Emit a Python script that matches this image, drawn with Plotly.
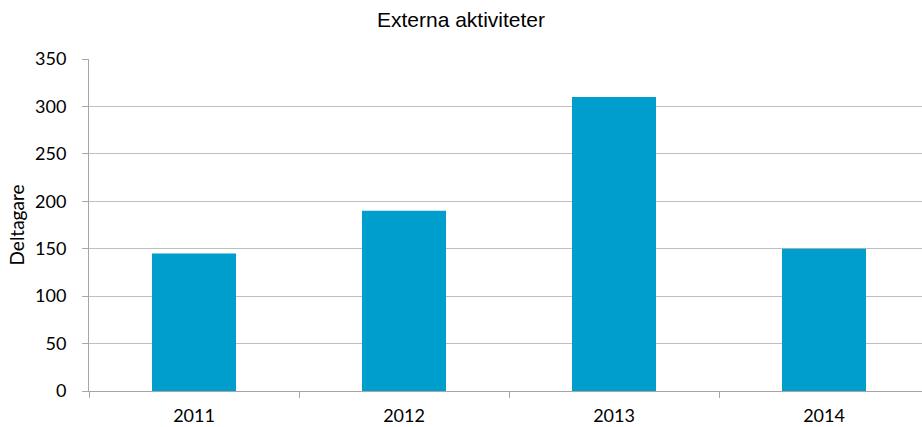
import plotly.graph_objects as go

years = ["2011", "2012", "2013", "2014"]
deltagare = [145, 190, 310, 150]
y_ticks = [0, 50, 100, 150, 200, 250, 300, 350]

W, H = 922, 427
ml, mr, mt, mb = 89, 0, 59, 36
cat_px = 210.0
x_hi = -0.5 + (W - ml - mr) / cat_px

label_font = dict(family="Lato, Carlito, Calibri", size=18, color="black")

fig = go.Figure(go.Bar(
    x=years, y=deltagare,
    marker=dict(color="#009ECC", line=dict(width=0)),
    width=0.4,
))

fig.update_layout(
    width=W, height=H,
    margin=dict(l=ml, r=mr, t=mt, b=mb, autoexpand=False),
    paper_bgcolor="white", plot_bgcolor="white",
    showlegend=False,
    title=dict(text="Externa aktiviteter", x=0.5, xanchor="center", y=1 - 20 / H, yanchor="middle",
               font=dict(family="Liberation Sans, Arial", size=21, color="black")),
)

fig.update_xaxes(
    type="category", range=[-0.5, x_hi],
    showline=True, linecolor="#A6A6A6", linewidth=1,
    ticks="outside", tickson="boundaries", ticklen=6, tickcolor="#A6A6A6",
    ticklabelstandoff=8,
    tickfont=label_font,
    showgrid=False, automargin=False,
)

fig.update_yaxes(
    range=[0, 350], tickvals=y_ticks,
    showline=True, linecolor="#A6A6A6", linewidth=1,
    ticks="outside", ticklen=6, tickcolor="#A6A6A6",
    ticklabelstandoff=12,
    tickfont=label_font,
    showgrid=True, gridcolor="#BFBFBF", gridwidth=1,
    zeroline=False,
    title=dict(text="Deltagare", standoff=5,
               font=dict(family="Lato, Carlito, Calibri", size=19, color="black")),
    automargin=False,
)

fig.write_html("out.html", config={"displayModeBar": False},
               post_script="document.body.style.margin='0px';")
